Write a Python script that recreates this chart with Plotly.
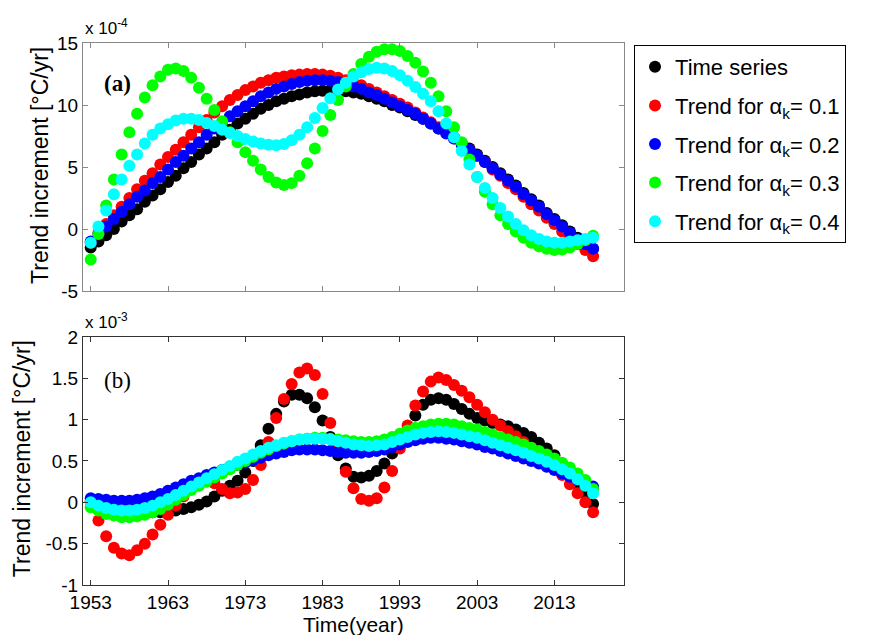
import plotly.graph_objects as go

# ---------------- data ----------------
years = list(range(1953, 2019))

# Panel (a): trend increment, units of 1e-4 degC/yr
a_time_series = [-1.5, -1.0, -0.5, 0.0, 0.6, 1.1, 1.6, 2.2, 2.7, 3.2,
                 3.8, 4.3, 4.9, 5.4, 6.0, 6.5, 7.0, 7.6, 8.0, 8.5,
                 8.9, 9.3, 9.7, 10.0, 10.3, 10.5, 10.7, 10.85, 11.0, 11.1,
                 11.15, 11.2, 11.2, 11.1, 11.0, 10.9, 10.7, 10.5, 10.3, 10.0,
                 9.8, 9.5, 9.2, 8.9, 8.5, 8.1, 7.8, 7.4, 6.9, 6.5,
                 6.0, 5.5, 5.0, 4.5, 4.0, 3.5, 2.9, 2.4, 1.9, 1.3,
                 0.8, 0.3, -0.2, -0.7, -1.2, -1.6]
a_trend_01 = [-1.1, -0.3, 0.4, 1.1, 1.8, 2.5, 3.2, 3.9, 4.5, 5.2,
              5.8, 6.4, 7.0, 7.6, 8.2, 8.8, 9.4, 9.9, 10.4, 10.8,
              11.2, 11.5, 11.8, 12.0, 12.2, 12.3, 12.4, 12.45, 12.5, 12.5,
              12.45, 12.35, 12.2, 12.0, 11.8, 11.6, 11.3, 11.0, 10.7, 10.4,
              10.1, 9.8, 9.4, 9.0, 8.6, 8.2, 7.8, 7.3, 6.9, 6.4,
              5.9, 5.4, 4.8, 4.3, 3.7, 3.2, 2.6, 2.0, 1.5, 0.9,
              0.4, -0.2, -0.7, -1.2, -1.7, -2.2]
a_trend_02 = [-1.0, -0.4, 0.2, 0.8, 1.4, 2.0, 2.6, 3.1, 3.7, 4.2,
              4.8, 5.4, 5.9, 6.5, 7.0, 7.6, 8.1, 8.6, 9.1, 9.5,
              9.9, 10.3, 10.7, 11.0, 11.3, 11.5, 11.7, 11.85, 11.95, 12.0,
              12.0, 11.95, 11.85, 11.7, 11.5, 11.3, 11.0, 10.8, 10.5, 10.2,
              9.9, 9.6, 9.3, 8.9, 8.5, 8.1, 7.7, 7.3, 6.8, 6.4,
              5.9, 5.4, 4.9, 4.4, 3.9, 3.4, 2.8, 2.3, 1.8, 1.2,
              0.7, 0.2, -0.3, -0.8, -1.2, -1.6]
a_trend_03 = [-2.45, -0.4, 1.9, 4.0, 6.0, 7.8, 9.3, 10.6, 11.6, 12.3,
              12.85, 12.95, 12.75, 12.2, 11.4, 10.5, 9.6, 8.7, 7.8, 7.0,
              6.2, 5.5, 4.8, 4.2, 3.75, 3.55, 3.7, 4.3, 5.3, 6.5,
              7.9, 9.2, 10.4, 11.5, 12.5, 13.3, 13.9, 14.3, 14.5, 14.5,
              14.35, 13.95, 13.4, 12.7, 11.8, 10.7, 9.5, 8.2, 7.0, 5.6,
              4.2, 3.0, 2.0, 1.1, 0.4, -0.2, -0.7, -1.1, -1.4, -1.6,
              -1.7, -1.65, -1.5, -1.2, -0.9, -0.55]
a_trend_04 = [-1.1, 0.2, 1.5, 2.8, 4.0, 5.1, 6.0, 6.9, 7.6, 8.1,
              8.45, 8.75, 8.9, 8.9, 8.8, 8.55, 8.3, 8.0, 7.75, 7.5,
              7.25, 7.05, 6.9, 6.8, 6.75, 6.85, 7.15, 7.6, 8.2, 8.95,
              9.75, 10.55, 11.25, 11.8, 12.3, 12.65, 12.9, 13.0, 12.95, 12.75,
              12.4, 11.95, 11.45, 10.9, 10.3, 9.5, 8.5, 7.4, 6.3, 5.2,
              4.2, 3.3, 2.5, 1.7, 1.0, 0.4, -0.1, -0.5, -0.8, -1.0,
              -1.1, -1.1, -1.0, -0.9, -0.8, -0.7]

# Panel (b): trend increment, units of 1e-3 degC/yr
b_time_series = [0.0, -0.03, -0.06, -0.08, -0.1, -0.11, -0.12, -0.12, -0.12, -0.12,
                 -0.11, -0.1, -0.08, -0.06, -0.03, 0.01, 0.07, 0.14, 0.2, 0.26,
                 0.36, 0.5, 0.69, 0.89, 1.07, 1.22, 1.3, 1.3, 1.26, 1.15,
                 0.99, 0.79, 0.57, 0.41, 0.31, 0.3, 0.32, 0.38, 0.47, 0.59,
                 0.73, 0.88, 1.05, 1.18, 1.24, 1.26, 1.24, 1.19, 1.13, 1.07,
                 1.02, 0.99, 0.96, 0.94, 0.92, 0.88, 0.84, 0.79, 0.72, 0.65,
                 0.57, 0.46, 0.35, 0.22, 0.1, -0.02]
b_trend_01 = [0.02, -0.22, -0.41, -0.55, -0.62, -0.64, -0.58, -0.5, -0.39, -0.27,
              -0.15, -0.04, 0.07, 0.17, 0.24, 0.27, 0.23, 0.16, 0.11, 0.12,
              0.16, 0.27, 0.45, 0.73, 1.02, 1.25, 1.43, 1.57, 1.62, 1.54,
              1.31, 0.96, 0.65, 0.37, 0.17, 0.04, 0.02, 0.05, 0.18, 0.38,
              0.65, 0.93, 1.17, 1.34, 1.46, 1.51, 1.48, 1.42, 1.35, 1.27,
              1.18, 1.09, 1.0, 0.93, 0.86, 0.8, 0.73, 0.66, 0.58, 0.5,
              0.42, 0.33, 0.22, 0.11, 0.0, -0.12]
b_trend_02 = [0.05, 0.04, 0.03, 0.02, 0.02, 0.02, 0.03, 0.05, 0.07, 0.1,
              0.14, 0.18, 0.22, 0.26, 0.29, 0.33, 0.36, 0.39, 0.42, 0.45,
              0.48, 0.51, 0.54, 0.57, 0.59, 0.61, 0.63, 0.64, 0.64, 0.64,
              0.63, 0.62, 0.61, 0.6, 0.6, 0.6, 0.61, 0.62, 0.64, 0.67,
              0.7, 0.73, 0.75, 0.77, 0.78, 0.78, 0.77, 0.76, 0.74, 0.72,
              0.7, 0.67, 0.65, 0.62, 0.59, 0.56, 0.53, 0.5, 0.47, 0.43,
              0.39, 0.35, 0.31, 0.27, 0.23, 0.19]
b_trend_03 = [-0.06, -0.1, -0.14, -0.16, -0.18, -0.18, -0.17, -0.15, -0.12, -0.08,
              -0.03, 0.03, 0.09, 0.15, 0.2, 0.25, 0.3, 0.35, 0.4, 0.45,
              0.5, 0.55, 0.6, 0.64, 0.68, 0.71, 0.74, 0.76, 0.77, 0.78,
              0.78, 0.77, 0.76, 0.75, 0.74, 0.73, 0.73, 0.74, 0.76, 0.79,
              0.83, 0.87, 0.9, 0.92, 0.94, 0.95, 0.95, 0.94, 0.92, 0.9,
              0.88, 0.85, 0.82, 0.79, 0.76, 0.73, 0.7, 0.66, 0.62, 0.58,
              0.53, 0.48, 0.42, 0.35, 0.27, 0.16]
b_trend_04 = [0.0, -0.04, -0.07, -0.09, -0.1, -0.1, -0.09, -0.07, -0.04, 0.0,
              0.04, 0.09, 0.14, 0.19, 0.24, 0.29, 0.34, 0.39, 0.44, 0.49,
              0.53, 0.58, 0.62, 0.66, 0.69, 0.72, 0.74, 0.76, 0.77, 0.77,
              0.77, 0.76, 0.74, 0.72, 0.7, 0.69, 0.68, 0.69, 0.7, 0.73,
              0.76, 0.79, 0.82, 0.84, 0.85, 0.86, 0.85, 0.84, 0.82, 0.8,
              0.78, 0.75, 0.72, 0.69, 0.66, 0.63, 0.6, 0.56, 0.53, 0.49,
              0.45, 0.4, 0.35, 0.28, 0.2, 0.11]

series_names = ["Time series",
                "Trend for α<sub>k</sub>= 0.1",
                "Trend for α<sub>k</sub>= 0.2",
                "Trend for α<sub>k</sub>= 0.3",
                "Trend for α<sub>k</sub>= 0.4"]
series_colors = ["#000000", "#ff0000", "#0000ff", "#00ff00", "#00ffff"]

x_tick_vals = [1953, 1963, 1973, 1983, 1993, 2003, 2013]
x_tick_text = ["1953", "1963", "1973", "1983", "1993", "2003", "2013"]
a_tick_vals = [-5, 0, 5, 10, 15]
a_tick_text = ["-5", "0", "5", "10", "15"]
b_tick_vals = [-1, -0.5, 0, 0.5, 1, 1.5, 2]
b_tick_text = ["-1", "-0.5", "0", "0.5", "1", "1.5", "2"]

# ---------------- figure ----------------
FONT = "Liberation Sans, Arial, sans-serif"
SERIF = "Liberation Serif, Times New Roman, serif"
fig = go.Figure()

panel_a = [a_time_series, a_trend_01, a_trend_02, a_trend_03, a_trend_04]
panel_b = [b_time_series, b_trend_01, b_trend_02, b_trend_03, b_trend_04]

for i, (name, col, ys) in enumerate(zip(series_names, series_colors, panel_a)):
    fig.add_trace(go.Scatter(x=years, y=ys, mode="markers", name=name,
                             legendgroup="g%d" % i,
                             marker=dict(color=col, size=12, line=dict(width=0)),
                             xaxis="x", yaxis="y"))
for i, (name, col, ys) in enumerate(zip(series_names, series_colors, panel_b)):
    fig.add_trace(go.Scatter(x=years, y=ys, mode="markers", name=name,
                             legendgroup="g%d" % i, showlegend=False,
                             marker=dict(color=col, size=12, line=dict(width=0)),
                             xaxis="x2", yaxis="y2"))

common_axis = dict(showgrid=False, zeroline=False, showline=True, mirror="ticks",
                   ticks="inside", ticklen=5, linewidth=1, automargin=False,
                   tickfont=dict(family=FONT, size=19, color="black"))

# the page body has an 8px margin, so the figure is 8px smaller in each direction
fig.update_layout(
    width=864, height=627, autosize=False,
    margin=dict(l=75, r=248, t=35, b=50),
    paper_bgcolor="white", plot_bgcolor="white",
    font=dict(family=FONT, color="black"),
    xaxis=dict(domain=[0, 1], anchor="y", range=[1952, 2022],
               tickvals=x_tick_vals, showticklabels=False,
               linecolor="#888888", tickcolor="#888888", **common_axis),
    yaxis=dict(domain=[0.5424, 1], anchor="x", range=[-5, 15],
               tickvals=a_tick_vals, ticktext=a_tick_text,
               linecolor="#888888", tickcolor="#888888", **common_axis),
    xaxis2=dict(domain=[0, 1], anchor="y2", range=[1952, 2022],
                tickvals=x_tick_vals, ticktext=x_tick_text,
                linecolor="#333333", tickcolor="#333333", **common_axis),
    yaxis2=dict(domain=[0, 0.4576], anchor="x2", range=[-1, 2],
                tickvals=b_tick_vals, ticktext=b_tick_text,
                linecolor="#333333", tickcolor="#333333", **common_axis),
    legend=dict(x=1.0185, y=0.9963, xanchor="left", yanchor="top",
                bgcolor="white", bordercolor="black", borderwidth=1,
                font=dict(family=FONT, size=22, color="black"),
                entrywidth=215, entrywidthmode="pixels",
                tracegroupgap=7, itemclick=False, itemdoubleclick=False),
    showlegend=True,
)

# axis titles
fig.add_annotation(text="Trend increment [°C/yr]", xref="paper", yref="paper",
                   x=-0.0795, y=0.775, xanchor="center", yanchor="middle",
                   textangle=-90, showarrow=False,
                   font=dict(family=FONT, size=23, color="black"))
fig.add_annotation(text="Trend increment [°C/yr]", xref="paper", yref="paper",
                   x=-0.1128, y=0.234, xanchor="center", yanchor="middle",
                   textangle=-90, showarrow=False,
                   font=dict(family=FONT, size=23, color="black"))
fig.add_annotation(text="Time(year)", xref="paper", yref="paper",
                   x=0.5, y=-0.073, xanchor="center", yanchor="middle",
                   showarrow=False, font=dict(family=FONT, size=21, color="black"))

# exponent labels
fig.add_annotation(text="x 10<sup>-4</sup>", xref="paper", yref="paper",
                   x=0, y=1.0, xanchor="left", yanchor="bottom", yshift=3,
                   showarrow=False, font=dict(family=FONT, size=17, color="black"))
fig.add_annotation(text="x 10<sup>-3</sup>", xref="paper", yref="paper",
                   x=0, y=0.4576, xanchor="left", yanchor="bottom", yshift=3,
                   showarrow=False, font=dict(family=FONT, size=17, color="black"))

# panel labels
fig.add_annotation(text="<b>(a)</b>", xref="paper", yref="paper",
                   x=0.035, y=0.926, xanchor="left", yanchor="middle",
                   showarrow=False, font=dict(family=SERIF, size=23, color="black"))
fig.add_annotation(text="(b)", xref="paper", yref="paper",
                   x=0.035, y=0.378, xanchor="left", yanchor="middle",
                   showarrow=False, font=dict(family=SERIF, size=23, color="black"))

fig.write_html("out.html")
